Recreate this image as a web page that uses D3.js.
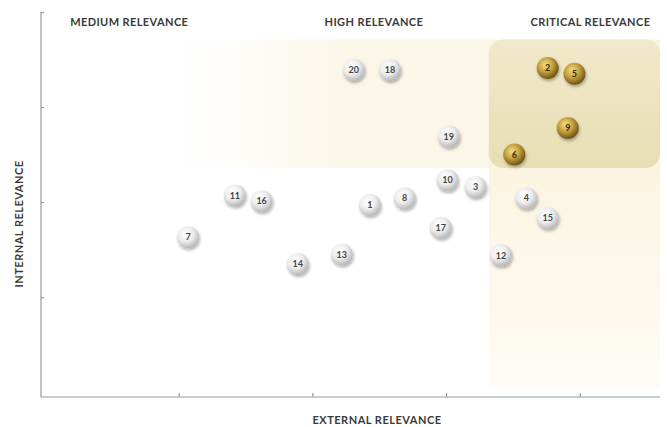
<!DOCTYPE html>
<html>
<head>
<meta charset="utf-8">
<script src="https://cdn.jsdelivr.net/npm/d3@7"></script>
<style>
  body { margin: 0; background: #fff; }
  text { font-family: Lato, "Open Sans", sans-serif; }
</style>
</head>
<body>
<div id="chart"></div>
<script>
var w = 667,
	h = 427;

// issues: id, external relevance, internal relevance, critical?
var ids      = [1, 2, 3, 4, 5, 6, 7, 8, 9, 10, 11, 12, 13, 14, 15, 16, 17, 18, 19, 20];
var external = [2.43, 3.76, 3.22, 3.60, 3.96, 3.51, 1.07, 2.69, 3.91, 3.01, 1.42, 3.41, 2.22, 1.89, 3.76, 1.62, 2.96, 2.58, 3.02, 2.31];
var internal = [1.97, 3.41, 2.16, 2.04, 3.35, 2.50, 1.63, 2.04, 2.78, 2.23, 2.07, 1.44, 1.45, 1.35, 1.83, 2.01, 1.73, 3.39, 2.69, 3.39];
var critical = [2, 5, 6, 9];

var xTicks = [1, 2, 3, 4];
var yTicks = [1, 2, 3, 4];

var zoneLabels = ["MEDIUM RELEVANCE", "HIGH RELEVANCE", "CRITICAL RELEVANCE"];
var zoneLabelX = [0.63, 2.46, 4.08];
// zone bounds in data units: [x0, x1, y0, y1]
var highZone = [1.0, 4.6, 2.36, 3.71];
var critZone = [3.32, 4.6, 2.36, 3.71];
var critColumn = [3.32, 4.6, 0.03, 2.36];

var svg = d3.select("#chart").append("svg")
	.attr("width", w)
	.attr("height", h);

var x = d3.scaleLinear().domain([-0.03, 4.6]).range([41, 660]);
var y = d3.scaleLinear().domain([-0.05, 4]).range([397, 12]);

var defs = svg.append("defs");

var g1 = defs.append("linearGradient").attr("id", "highGrad");
g1.append("stop").attr("offset", "0%").attr("stop-color", "#fdf9ef").attr("stop-opacity", 0);
g1.append("stop").attr("offset", "35%").attr("stop-color", "#fbf6e8").attr("stop-opacity", 1);
g1.append("stop").attr("offset", "100%").attr("stop-color", "#faf4e3");

var g2 = defs.append("linearGradient").attr("id", "colGrad")
	.attr("x1", 0).attr("y1", 0).attr("x2", 0).attr("y2", 1);
g2.append("stop").attr("offset", "0%").attr("stop-color", "#fbf4e0");
g2.append("stop").attr("offset", "100%").attr("stop-color", "#fefcf6");

var g3 = defs.append("linearGradient").attr("id", "critGrad")
	.attr("x1", 0).attr("y1", 0).attr("x2", 0).attr("y2", 1);
g3.append("stop").attr("offset", "0%").attr("stop-color", "#f0e9cb");
g3.append("stop").attr("offset", "100%").attr("stop-color", "#e8deb4");

var silver = defs.append("radialGradient").attr("id", "silver")
	.attr("cx", "40%").attr("cy", "35%").attr("r", "65%");
silver.append("stop").attr("offset", "0%").attr("stop-color", "#ffffff");
silver.append("stop").attr("offset", "55%").attr("stop-color", "#ececec");
silver.append("stop").attr("offset", "100%").attr("stop-color", "#b8b8b8");

var gold = defs.append("radialGradient").attr("id", "gold")
	.attr("cx", "40%").attr("cy", "35%").attr("r", "65%");
gold.append("stop").attr("offset", "0%").attr("stop-color", "#f3de8a");
gold.append("stop").attr("offset", "50%").attr("stop-color", "#c5a23e");
gold.append("stop").attr("offset", "100%").attr("stop-color", "#6e5314");

var shadow = defs.append("filter").attr("id", "shadow")
	.attr("x", "-50%").attr("y", "-50%").attr("width", "200%").attr("height", "200%");
shadow.append("feDropShadow").attr("dx", 1).attr("dy", 2).attr("stdDeviation", 1.5)
	.attr("flood-color", "#000").attr("flood-opacity", 0.3);

function zoneRect(z, fill, r) {
	svg.append("rect")
		.attr("x", x(z[0]))
		.attr("y", y(z[3]))
		.attr("width", x(z[1]) - x(z[0]))
		.attr("height", y(z[2]) - y(z[3]))
		.attr("rx", r)
		.attr("fill", fill);
}
zoneRect(highZone, "url(#highGrad)", 0);
zoneRect(critColumn, "url(#colGrad)", 0);
zoneRect(critZone, "url(#critGrad)", 14);

// axes
var xAxis = svg.append("g")
	.attr("transform", `translate(0, ${y(-0.05)})`)
	.call(d3.axisTop(x).tickValues(xTicks).tickSize(4).tickFormat(""));
var yAxis = svg.append("g")
	.attr("transform", `translate(${x(-0.03)}, 0)`)
	.call(d3.axisRight(y).tickValues(yTicks).tickSize(3).tickFormat(""));
svg.selectAll(".domain, .tick line").attr("stroke", "#9a9a9a").attr("stroke-width", 1.2);
xAxis.select(".domain").attr("d", `M${x(-0.03)},0H${x(4.6)}`);
yAxis.select(".domain").attr("d", `M0,${y(4)}V${y(-0.05)}`);

svg.append("text")
	.attr("x", 377).attr("y", 424)
	.attr("text-anchor", "middle")
	.attr("font-size", 11).attr("font-weight", 700)
	.attr("letter-spacing", 0.5)
	.attr("fill", "#3a3a3a")
	.text("EXTERNAL RELEVANCE");

svg.append("text")
	.attr("transform", "translate(23, 224) rotate(-90)")
	.attr("text-anchor", "middle")
	.attr("font-size", 11).attr("font-weight", 700)
	.attr("letter-spacing", 0.5)
	.attr("fill", "#3a3a3a")
	.text("INTERNAL RELEVANCE");

svg.selectAll(".zlabel").data(zoneLabels).enter().append("text")
	.attr("class", "zlabel")
	.attr("x", function(d, i) { return x(zoneLabelX[i]); })
	.attr("y", 26)
	.attr("text-anchor", "middle")
	.attr("font-size", 11).attr("font-weight", 700)
	.attr("letter-spacing", 0.4)
	.attr("fill", "#3a3a3a")
	.text(function(d) { return d; });

// balls
var balls = svg.selectAll(".ball").data(ids).enter().append("g")
	.attr("class", "ball")
	.attr("transform", function(d, i) { return `translate(${x(external[i])}, ${y(internal[i])})`; });

balls.append("circle")
	.attr("r", 11)
	.attr("fill", function(d) { return critical.includes(d) ? "url(#gold)" : "url(#silver)"; })
	.attr("filter", "url(#shadow)");

balls.append("text")
	.attr("text-anchor", "middle")
	.attr("dy", "0.35em")
	.attr("font-size", 9).attr("font-weight", 700)
	.attr("fill", function(d) { return critical.includes(d) ? "#3a2a05" : "#444"; })
	.text(function(d) { return d; });
</script>
</body>
</html>
